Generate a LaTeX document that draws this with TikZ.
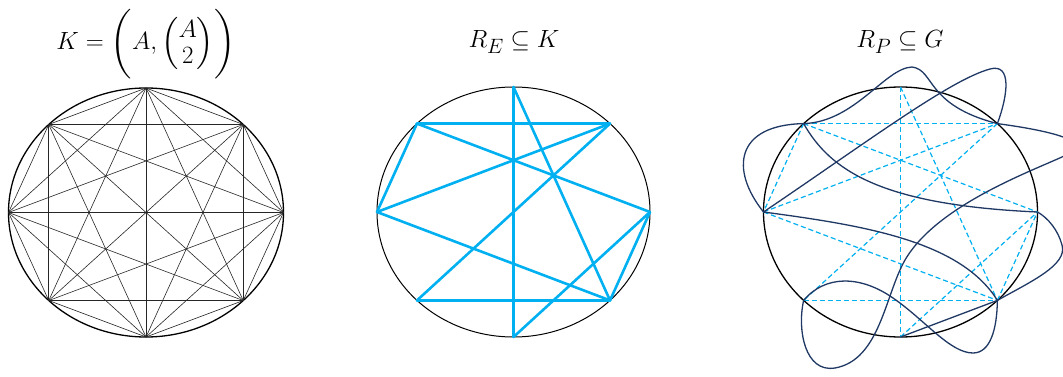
\documentclass[tikz,border=0pt]{standalone}
\usepackage{amsmath,amssymb}
\usepackage{tikz}
\usetikzlibrary{calc}
\usepackage{xcolor}
\definecolor{edgeblue}{HTML}{00B0F0}
\definecolor{pathnavy}{HTML}{203864}

\begin{document}
\begin{tikzpicture}[x=1pt, y=-1pt, every node/.style={font=\fontsize{29}{34}\selectfont}]
\tikzset{ring/.style={draw=black, line width=1.3pt}}
\tikzset{kedge/.style={draw=black!85, line width=0.6pt}}
\tikzset{eedge/.style={draw=edgeblue, line width=2.6pt}}
\tikzset{dedge/.style={draw=edgeblue, line width=1.2pt, dash pattern=on 5pt off 3pt}}
\tikzset{gpath/.style={draw=pathnavy, line width=1.3pt}}
\tikzset{title/.style={anchor=base, inner sep=0pt}}
\useasboundingbox (0,0) rectangle (1063,377);
\clip (0,0) rectangle (1063,377);
% titles
\node[title] (tk) at (146,50) {$K = \biggl(A, \Bigl(\begin{array}{@{}c@{}}A\\[-8pt]2\end{array}\Bigr)\biggr)$};
\node[title] (te) at (514,48) {$R_E \subseteq K$};
\node[title] (tp) at (900,48) {$R_P \subseteq G$};
% vertices: 0 right, then anticlockwise
\foreach \i in {0,...,7} {
  \coordinate (k\i) at ({146+137.5*cos(45*\i)}, {212.5-124.5*sin(45*\i)});
  \coordinate (e\i) at ({513.5+136.5*cos(45*\i)}, {212-125*sin(45*\i)});
  \coordinate (p\i) at ({900.5+137*cos(45*\i)}, {212-125*sin(45*\i)});
}
% complete graph K
\draw[ring] (146,212.5) ellipse [x radius=137.5pt, y radius=124.5pt];
\foreach \i in {0,...,6} {
  \pgfmathtruncatemacro\nxt{\i+1}
  \foreach \j in {\nxt,...,7} \draw[kedge] (k\i) -- (k\j);
}
% chosen edges R_E
\draw[draw=black, line width=1pt] (513.5,212) ellipse [x radius=136.5pt, y radius=125pt];
\foreach \a/\b in {2/6,3/1,5/7,3/4,3/0,4/1,4/7,1/5,2/7,6/0,7/0}
  \draw[eedge, line cap=round] (e\a) -- (e\b);
% routed paths R_P
\draw[ring] (900.5,212) ellipse [x radius=137pt, y radius=125pt];
\foreach \a/\b in {2/6,3/1,5/7,3/4,3/0,4/1,4/7,1/5,2/7,6/0,7/0}
  \draw[dedge] (p\a) -- (p\b);
\draw[gpath] (p3) .. controls (735,125) and (730,170) .. (p4);
\draw[gpath] (p4) .. controls (870,140) and (950,80) .. (990,69)
  .. controls (1012,63) and (1008,95) .. (p1);
\draw[gpath] (p3) .. controls (855,122) and (885,68) .. (912,67)
  .. controls (935,70) and (925,105) .. (p1);
\draw[gpath] (p1) .. controls (1045,130) and (1090,140) .. (1072,152)
  .. controls (1050,165) and (940,200) .. (905,260)
  .. controls (885,295) and (880,360) .. (835,368)
  .. controls (805,373) and (797,330) .. (p5);
\draw[gpath] (p5) .. controls (825,275) and (860,275) .. (893,298)
  .. controls (925,320) and (950,353) .. (973,353)
  .. controls (990,353) and (997,330) .. (p7);
\draw[gpath] (p6) -- (p7);
\draw[gpath] (p7) .. controls (1030,282) and (1068,265) .. (1062,245)
  .. controls (1058,230) and (1048,218) .. (p0);
\draw[gpath] (p4) .. controls (860,225) and (960,240) .. (p7);
\draw[gpath] (p3) .. controls (830,170) and (880,205) .. (p0);
\end{tikzpicture}
\end{document}
